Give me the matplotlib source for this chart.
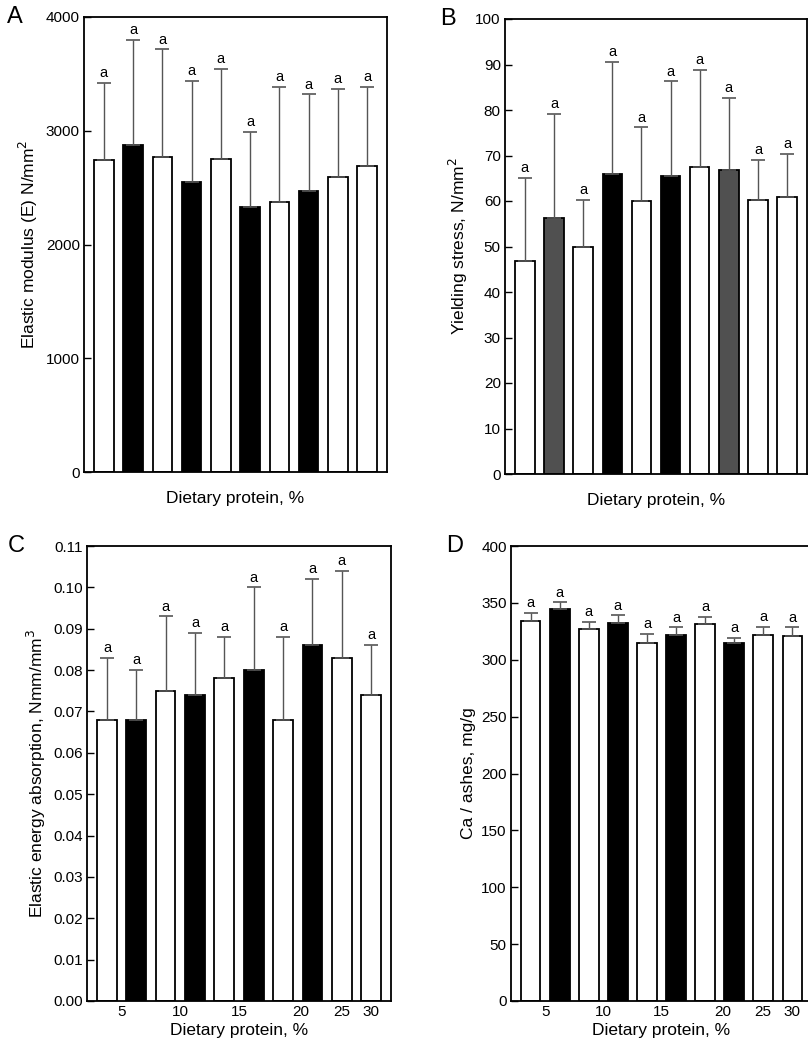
import numpy as np
import matplotlib
matplotlib.use("Agg")
import matplotlib.pyplot as plt

plt.rcParams['font.family'] = ['Liberation Sans', 'DejaVu Sans']

W, H = 808, 1043

# panel data: means and top of error bar
a_mean = [2742, 2879, 2768, 2551, 2756, 2331, 2372, 2466, 2592, 2689]
a_top = [3422, 3798, 3716, 3437, 3546, 2991, 3387, 3320, 3367, 3387]
a_colors = ['white', 'black', 'white', 'black', 'white', 'black', 'white', 'black', 'white', 'white']

b_mean = [46.9, 56.3, 50.0, 66.0, 60.0, 65.6, 67.4, 66.9, 60.3, 60.9]
b_top = [65.1, 79.1, 60.2, 90.6, 76.2, 86.3, 88.9, 82.6, 69.1, 70.3]
b_colors = ['white', '#505050', 'white', 'black', 'white', 'black', 'white', '#505050', 'white', 'white']

c_mean = [0.068, 0.068, 0.075, 0.074, 0.078, 0.080, 0.068, 0.086, 0.083, 0.074]
c_top = [0.083, 0.080, 0.093, 0.089, 0.088, 0.100, 0.088, 0.102, 0.104, 0.086]
c_colors = a_colors

d_mean = [334, 345, 327, 332, 314.5, 322, 331.5, 315, 322, 321]
d_top = [341.5, 350.5, 333.5, 339, 323, 328.5, 338, 319.5, 329, 328.5]
d_colors = a_colors

xtick_pos = [1.5, 3.5, 5.5, 7.6, 9, 10]
xtick_labels = ['5', '10', '15', '20', '25', '30']

fig = plt.figure(figsize=(W / 100, H / 100), dpi=100)


def make_axes(left, right, top, bottom):
    return fig.add_axes([left / W, (H - bottom) / H, (right - left) / W, (bottom - top) / H])


def draw_panel(ax, means, tops, colors, ylim, yticks, yfmt, ylabel, letter, show_x):
    x = np.arange(1, len(means) + 1)
    means = np.array(means)
    tops = np.array(tops)
    ax.bar(x, means, width=0.67, color=colors, edgecolor='black', linewidth=1.3, zorder=2)
    ax.errorbar(x, means, yerr=[np.zeros_like(means), tops - means], fmt='none',
                ecolor='#555555', elinewidth=1.0, capsize=5, capthick=1.2, zorder=3)
    for xi, t in zip(x, tops):
        ax.annotate('a', (xi, t), xytext=(0, 2), textcoords='offset points',
                    ha='center', va='bottom', fontsize=10.5)
    ax.set_xlim(0.32, 10.68)
    ax.set_ylim(*ylim)
    ax.set_yticks(yticks)
    ax.set_yticklabels([yfmt.format(v) for v in yticks])
    ax.tick_params(axis='y', direction='in', length=5, width=1, labelsize=11, pad=3)
    if show_x:
        ax.set_xticks(xtick_pos)
        ax.set_xticklabels(xtick_labels)
        ax.tick_params(axis='x', length=0, labelsize=11, pad=3)
        ax.set_xlabel('Dietary protein, %', fontsize=12.5, labelpad=3)
    else:
        ax.set_xticks([])
        ax.set_xlabel('Dietary protein, %', fontsize=12.5, labelpad=14)
    ax.set_ylabel(ylabel, fontsize=12.5, labelpad=4)
    for s in ax.spines.values():
        s.set_linewidth(1.3)
    ax.text(-0.2, 1.0, letter, transform=ax.transAxes, fontsize=17, ha='left', va='center')


ax_a = make_axes(84, 387, 17, 472)
draw_panel(ax_a, a_mean, a_top, a_colors, (0, 4000), [0, 1000, 2000, 3000, 4000], '{:d}',
           'Elastic modulus (E) N/mm$^2$', 'A', False)
ax_a.texts[-1].set_position((-0.255, 1.0))

ax_b = make_axes(505, 807, 19, 474)
draw_panel(ax_b, b_mean, b_top, b_colors, (0, 100), list(range(0, 101, 10)), '{:d}',
           'Yielding stress, N/mm$^2$', 'B', False)
ax_b.texts[-1].set_position((-0.215, 1.0))

ax_c = make_axes(87, 391, 546, 1001)
draw_panel(ax_c, c_mean, c_top, c_colors, (0, 0.11), [i / 100 for i in range(12)], '{:.2f}',
           'Elastic energy absorption, Nmm/mm$^3$', 'C', True)
ax_c.texts[-1].set_position((-0.26, 1.0))

ax_d = make_axes(511, 812, 546, 1001)
draw_panel(ax_d, d_mean, d_top, d_colors, (0, 400), list(range(0, 401, 50)), '{:d}',
           'Ca / ashes, mg/g', 'D', True)
ax_d.texts[-1].set_position((-0.215, 1.0))

fig.savefig('out.png', dpi=100)
